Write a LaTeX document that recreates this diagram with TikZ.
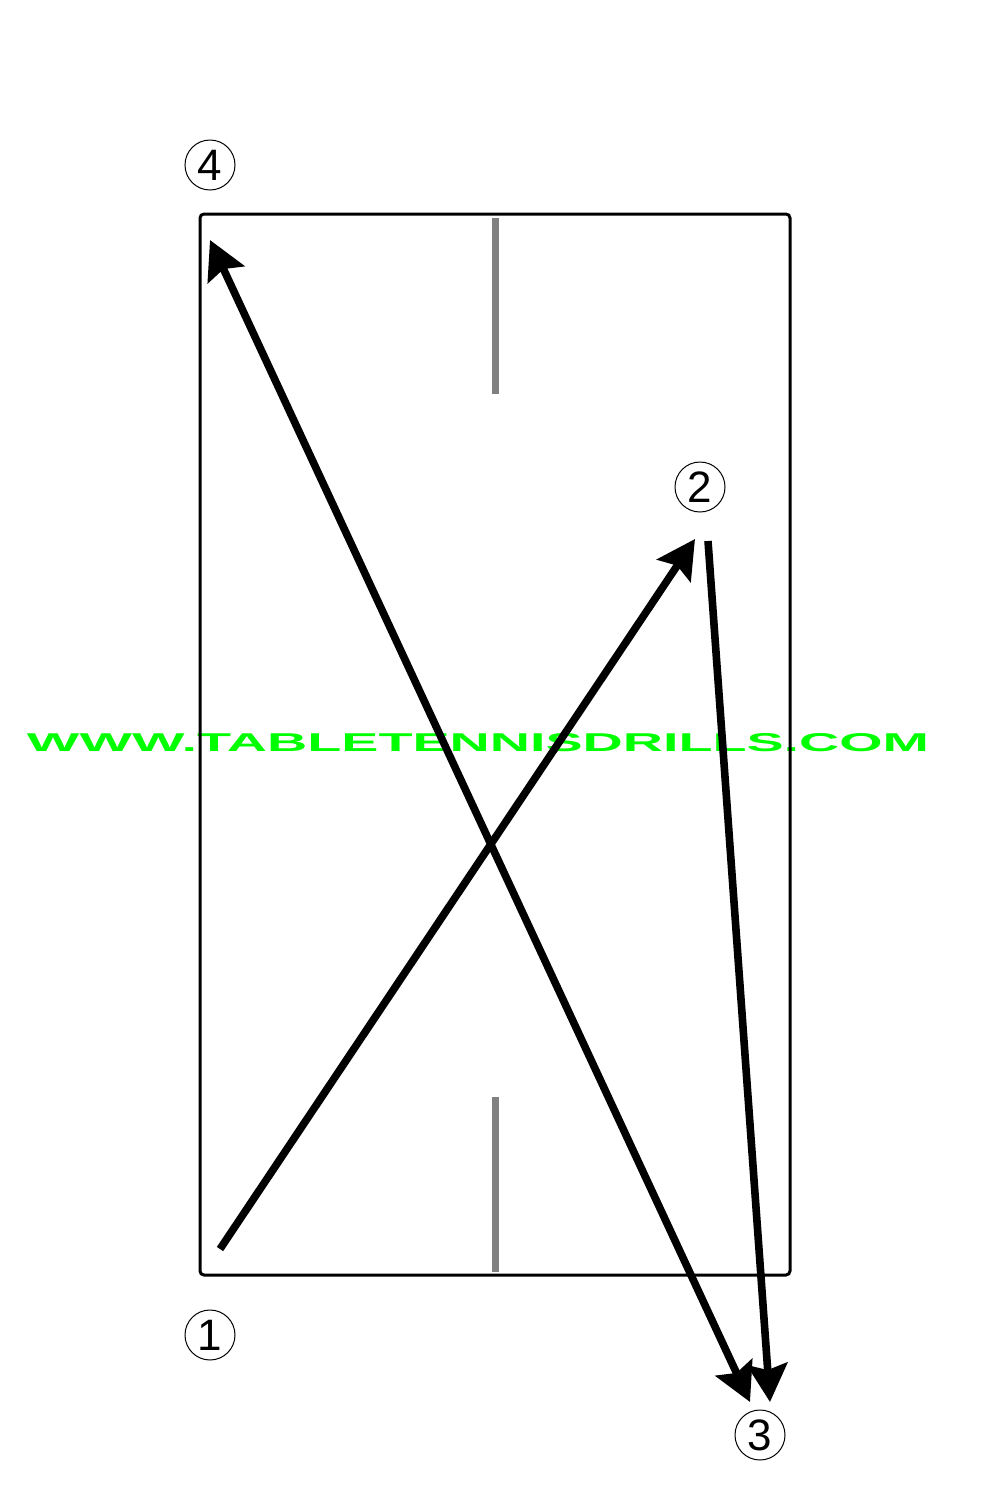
\documentclass[tikz,border=0pt]{standalone}
\usepackage{fontspec}
\setmainfont{Liberation Sans}
\usepackage{tikz}
\usepackage{xcolor}
\usepackage{graphicx}
\usetikzlibrary{arrows.meta}
\definecolor{netgray}{HTML}{808080}
\definecolor{wmgreen}{HTML}{00FF00}
\tikzset{
  num/.style={draw, circle, line width=0.5pt, minimum size=25pt, inner sep=0pt,
    font=\fontsize{22}{22}\selectfont},
  ballhead/.tip={Stealth[length=19pt,width=20pt,inset=3pt]},
  ball/.style={line width=3.8pt, -ballhead},
  netline/.style={netgray, line width=3.5pt}
}

\begin{document}
\begin{tikzpicture}[x=0.5pt, y=-0.5pt]
      \useasboundingbox (0,0) rectangle (1000,1500);
      % Watermark
      \node[text=wmgreen, inner sep=0pt] (web) at (478,743)
        {\resizebox{451pt}{9pt}{\bfseries WWW.TABLETENNISDRILLS.COM}};
      % Table
      \draw[line width=1.5pt, rounded corners=2pt] (200,214) rectangle (790,1275);
      % Net line
      \draw[netline] (495,218) -- (495,394);
      \draw[netline] (495,1097) -- (495,1272);
      % Labels
      \node[num] (n1) at (210,1335) {1};
      \node[num] (n2) at (700,487) {2};
      \node[num] (n3) at (760,1435) {3};
      \node[num] (n4) at (210,165) {4};
      % Ball path
      \coordinate (a1) at (220,1249);
      \coordinate (a2) at (695,539);
      \coordinate (b2) at (708,541);
      \coordinate (b3) at (770,1402);
      \coordinate (c3) at (750,1402);
      \coordinate (c4) at (210,240);
      \draw[ball] (a1) -- (a2);
      \draw[ball] (b2) -- (b3);
      \draw[ball, ballhead-ballhead] (c3) -- (c4);
    \end{tikzpicture}
\end{document}
